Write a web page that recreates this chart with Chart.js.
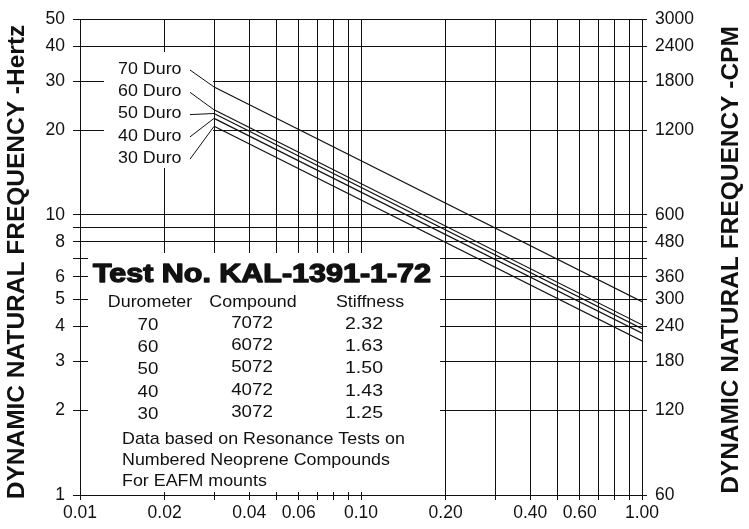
<!DOCTYPE html>
<html>
<head>
<meta charset="utf-8">
<script src="https://cdn.jsdelivr.net/npm/chart.js@4"></script>
<style>
  html, body { margin: 0; padding: 0; background: #fff; }
  #box { width: 749px; height: 529px; }
</style>
</head>
<body>
<div id="box"><canvas id="chart"></canvas></div>
<script>
// valores (deflexion en pulgadas vs frecuencia en Hz)
const durometers = ["70 Duro", "60 Duro", "50 Duro", "40 Duro", "30 Duro"];
const deflection = [0.03, 1.0];
const duro70 = [28.6, 4.9];
const duro60 = [23.7, 4.05];
const duro50 = [23.0, 3.92];
const duro40 = [22.1, 3.78];
const duro30 = [20.7, 3.55];
const series = [duro70, duro60, duro50, duro40, duro30];

// lineas de grilla y etiquetas de los ejes
const xGrid = [0.01, 0.02, 0.03, 0.04, 0.05, 0.06, 0.07, 0.08, 0.09, 0.1, 0.2, 0.3, 0.4, 0.5, 0.6, 0.7, 0.8, 0.9, 1.0];
const xLabels = [0.01, 0.02, 0.04, 0.06, 0.1, 0.2, 0.4, 0.6, 1.0];
const yGrid = [1, 2, 3, 4, 5, 6, 7, 8, 9, 10, 20, 30, 40, 50];
const yLabels = [1, 2, 3, 4, 5, 6, 8, 10, 20, 30, 40, 50];
const cpmFactor = 60;
const leftTitle = "DYNAMIC NATURAL FREQUENCY -Hertz";
const rightTitle = "DYNAMIC NATURAL FREQUENCY -CPM";

// tabla del recuadro
const tableDuro = ["70", "60", "50", "40", "30"];
const tableCompound = ["7072", "6072", "5072", "4072", "3072"];
const tableStiffness = ["2.32", "1.63", "1.50", "1.43", "1.25"];
const testTitle = "Test No. KAL-1391-1-72";
const notesText = ["Data based on Resonance Tests on", "Numbered Neoprene Compounds", "For EAFM mounts"];

const FONT = "'Liberation Sans', Arial, sans-serif";
const INK = "#111";

function has(list, v) {
    return list.some((l) => Math.abs(l - v) < 1e-9);
}

// texto con un poco de estiramiento horizontal como en el original
function stretchText(ctx, txt, x, y, align, sx) {
    ctx.save();
    ctx.translate(x, y);
    ctx.scale(sx, 1);
    ctx.textAlign = align;
    ctx.fillText(txt, 0, 0);
    ctx.restore();
}

function sideTitle(ctx, txt, x, y) {
    ctx.save();
    ctx.translate(x, y);
    ctx.rotate(-Math.PI / 2);
    ctx.textAlign = "center";
    ctx.textBaseline = "middle";
    ctx.fillText(txt, 0, 0);
    ctx.restore();
}

const notes = {
    id: "notes",
    beforeDatasetsDraw(chart) {
        const ctx = chart.ctx;
        ctx.save();
        ctx.fillStyle = "#fff";
        ctx.fillRect(104, 52, 109, 116);   // zona de etiquetas Duro
        ctx.fillRect(88, 253, 352, 239);   // recuadro de la tabla
        ctx.restore();
    },
    afterDatasetsDraw(chart) {
        const ctx = chart.ctx;
        const xs = chart.scales.x;
        const ys = chart.scales.y;
        ctx.save();
        ctx.fillStyle = INK;
        ctx.strokeStyle = INK;
        ctx.lineWidth = 1;
        ctx.textBaseline = "middle";
        ctx.font = "17px " + FONT;
        // etiquetas y lineas guia
        durometers.forEach((name, i) => {
            const cy = 69 + i * 22.3;
            stretchText(ctx, name, 118, cy, "left", 1.05);
            ctx.beginPath();
            ctx.moveTo(190, cy + 1);
            ctx.lineTo(xs.getPixelForValue(deflection[0]), ys.getPixelForValue(series[i][0]));
            ctx.stroke();
        });
        // recuadro
        ctx.textBaseline = "alphabetic";
        ctx.font = "bold 25px " + FONT;
        const w = ctx.measureText(testTitle).width;
        ctx.save();
        ctx.translate(93, 282);
        ctx.scale(338 / w, 1);
        ctx.lineWidth = 1.3;
        ctx.lineJoin = "round";
        ctx.fillText(testTitle, 0, 0);
        ctx.strokeText(testTitle, 0, 0);
        ctx.restore();
        ctx.font = "17px " + FONT;
        stretchText(ctx, "Durometer", 150, 307, "center", 1.05);
        stretchText(ctx, "Compound", 253, 307, "center", 1.05);
        stretchText(ctx, "Stiffness", 370, 307, "center", 1.05);
        tableDuro.forEach((d, i) => {
            const by = 330 + i * 22.2;
            stretchText(ctx, d, 148, by, "center", 1.1);
            stretchText(ctx, tableCompound[i], 252, by - 2, "center", 1.1);
            stretchText(ctx, tableStiffness[i], 364, by - 1, "center", 1.15);
        });
        notesText.forEach((t, i) => {
            stretchText(ctx, t, 122, 444 + i * 21, "left", 1.05);
        });
        // titulos de los ejes, ambos leidos de abajo hacia arriba
        ctx.font = "bold 24.5px " + FONT;
        sideTitle(ctx, leftTitle, 17, 262);
        sideTitle(ctx, rightTitle, 731, 260);
        ctx.restore();
    }
};

new Chart(document.getElementById("chart").getContext("2d"), {
    type: "line",
    data: {
        datasets: durometers.map((name, i) => ({
            label: name,
            data: deflection.map((d, j) => ({ x: d, y: series[i][j] })),
            borderColor: INK,
            borderWidth: 1.2,
            pointRadius: 0,
            fill: false,
            tension: 0
        }))
    },
    options: {
        responsive: true,
        maintainAspectRatio: false,
        animation: false,
        layout: { padding: { top: 19, right: 0, bottom: 0, left: 0 } },
        plugins: {
            legend: { display: false },
            tooltip: { enabled: false }
        },
        scales: {
            x: {
                type: "logarithmic",
                min: 0.01,
                max: 1,
                afterBuildTicks: (s) => { s.ticks = xGrid.map((v) => ({ value: v })); },
                afterFit: (s) => { s.height = 34; },
                grid: { color: INK, lineWidth: 1, tickLength: 5 },
                border: { color: INK, width: 1 },
                ticks: {
                    autoSkip: false,
                    maxRotation: 0,
                    padding: 3,
                    color: INK,
                    font: { size: 17.5, family: FONT },
                    callback: (v) => (has(xLabels, v) ? Number(v).toFixed(2) : "")
                }
            },
            y: {
                type: "logarithmic",
                position: "left",
                min: 1,
                max: 50,
                afterBuildTicks: (s) => { s.ticks = yGrid.map((v) => ({ value: v })); },
                afterFit: (s) => { s.width = 80; },
                grid: { color: INK, lineWidth: 1, tickLength: 7 },
                border: { color: INK, width: 1 },
                ticks: {
                    autoSkip: false,
                    padding: 8,
                    color: INK,
                    font: { size: 17.5, family: FONT },
                    callback: (v) => (has(yLabels, v) ? String(v) : "")
                }
            },
            y2: {
                type: "logarithmic",
                position: "right",
                min: 1,
                max: 50,
                afterBuildTicks: (s) => { s.ticks = yGrid.map((v) => ({ value: v })); },
                afterFit: (s) => { s.width = 107; },
                grid: { drawOnChartArea: false, color: INK, lineWidth: 1, tickLength: 5 },
                border: { color: INK, width: 1 },
                ticks: {
                    autoSkip: false,
                    padding: 8,
                    color: INK,
                    font: { size: 17.5, family: FONT },
                    callback: (v) => (has(yLabels, v) ? String(Math.round(v * cpmFactor)) : "")
                }
            }
        }
    },
    plugins: [notes]
});
</script>
</body>
</html>
